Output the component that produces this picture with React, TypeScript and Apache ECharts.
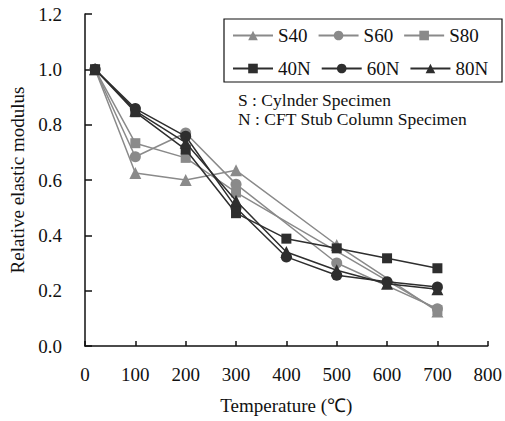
import React, { useEffect, useRef } from "react";
import * as echarts from "echarts";

const temperatures = [20, 100, 200, 300, 400, 500, 600, 700];
const seriesNames = ["S40", "S60", "S80", "40N", "60N", "80N"];
const s40 = [1.0, 0.625, 0.6, 0.635, null, 0.365, null, 0.125];
const s60 = [1.0, 0.684, 0.77, 0.585, null, 0.3, null, 0.135];
const s80 = [1.0, 0.733, 0.68, 0.555, null, null, null, 0.13];
const n40 = [1.0, 0.845, 0.71, 0.48, 0.388, 0.353, 0.317, 0.281];
const n60 = [1.0, 0.858, 0.758, 0.5, 0.322, 0.256, 0.232, 0.213];
const n80 = [1.0, 0.85, 0.735, 0.525, 0.34, 0.274, 0.225, 0.205];
const yTicks = [0, 0.2, 0.4, 0.6, 0.8, 1.0, 1.2];
const noteLines = ["S : Cylnder Specimen", "N : CFT Stub Column Specimen"];

const GRAY = "#8a8a8a";
const DARK = "#2e2e2e";
const FONT = "Liberation Serif";

export default function App() {
  const ref = useRef<HTMLDivElement>(null);
  useEffect(() => {
    if (!ref.current) return;
    const chart = echarts.init(ref.current, null, { renderer: "svg" });
    const allData = [s40, s60, s80, n40, n60, n80];
    const symbols = ["triangle", "circle", "rect", "rect", "circle", "triangle"];
    const sizes = [12, 11, 10, 10, 11, 12];
    const colors = [GRAY, GRAY, GRAY, DARK, DARK, DARK];
    const series = allData.map((d, i) => ({
      name: seriesNames[i],
      type: "line",
      data: temperatures.map((t, j) => [t, d[j]]),
      connectNulls: true,
      symbol: symbols[i],
      symbolSize: sizes[i],
      showSymbol: true,
      color: colors[i],
      lineStyle: { color: colors[i], width: 1.5 },
      itemStyle: { color: colors[i] },
      z: i < 3 ? 2 : 3,
    }));
    const legendCommon = {
      orient: "horizontal",
      padding: 0,
      itemWidth: 40,
      itemHeight: 12,
      itemGap: 10,
      textStyle: { fontFamily: FONT, fontSize: 19, color: "#111", width: 40 },
    };
    chart.setOption({
      animation: false,
      backgroundColor: "#fff",
      textStyle: { fontFamily: FONT },
      grid: { left: 85, right: 14, top: 14, bottom: 75 },
      legend: [
        { ...legendCommon, left: 232, top: 26, data: seriesNames.slice(0, 3) },
        { ...legendCommon, left: 232, top: 59, data: seriesNames.slice(3) },
      ],
      xAxis: {
        type: "value",
        min: 0,
        max: 800,
        interval: 100,
        name: "Temperature (℃)",
        nameLocation: "middle",
        nameGap: 50,
        nameTextStyle: { fontFamily: FONT, fontSize: 19, color: "#111" },
        axisLine: { show: true, lineStyle: { color: "#111", width: 1.5 } },
        axisTick: { show: true, inside: true, length: 5, lineStyle: { color: "#111", width: 1.5 } },
        axisLabel: { fontFamily: FONT, fontSize: 19, color: "#111", margin: 19 },
        splitLine: { show: false },
      },
      yAxis: {
        type: "value",
        min: yTicks[0],
        max: yTicks[yTicks.length - 1],
        interval: 0.2,
        name: "Relative elastic modulus",
        nameLocation: "middle",
        nameGap: 57,
        nameTextStyle: { fontFamily: FONT, fontSize: 19, color: "#111" },
        axisLine: { show: true, lineStyle: { color: "#111", width: 1.5 } },
        axisTick: { show: true, inside: true, length: 7, lineStyle: { color: "#111", width: 1.5 } },
        axisLabel: {
          fontFamily: FONT,
          fontSize: 19,
          color: "#111",
          margin: 23,
          formatter: (v: number) => v.toFixed(1),
        },
        splitLine: { show: false },
      },
      graphic: [
        {
          type: "rect",
          shape: { x: 224, y: 19, width: 278, height: 63 },
          style: { fill: "none", stroke: "#111", lineWidth: 1.2 },
          z: 10,
        },
        ...noteLines.map((t, i) => ({
          type: "text",
          x: 238,
          y: 100 + i * 18.5,
          style: {
            text: t,
            fontFamily: FONT,
            fontSize: 17.5,
            fill: "#111",
            verticalAlign: "middle",
          },
          z: 10,
        })),
      ],
      series,
    });
    return () => chart.dispose();
  }, []);
  return (
    <div
      ref={ref}
      style={{ position: "fixed", left: 0, top: 0, width: 505, height: 421 }}
    />
  );
}
